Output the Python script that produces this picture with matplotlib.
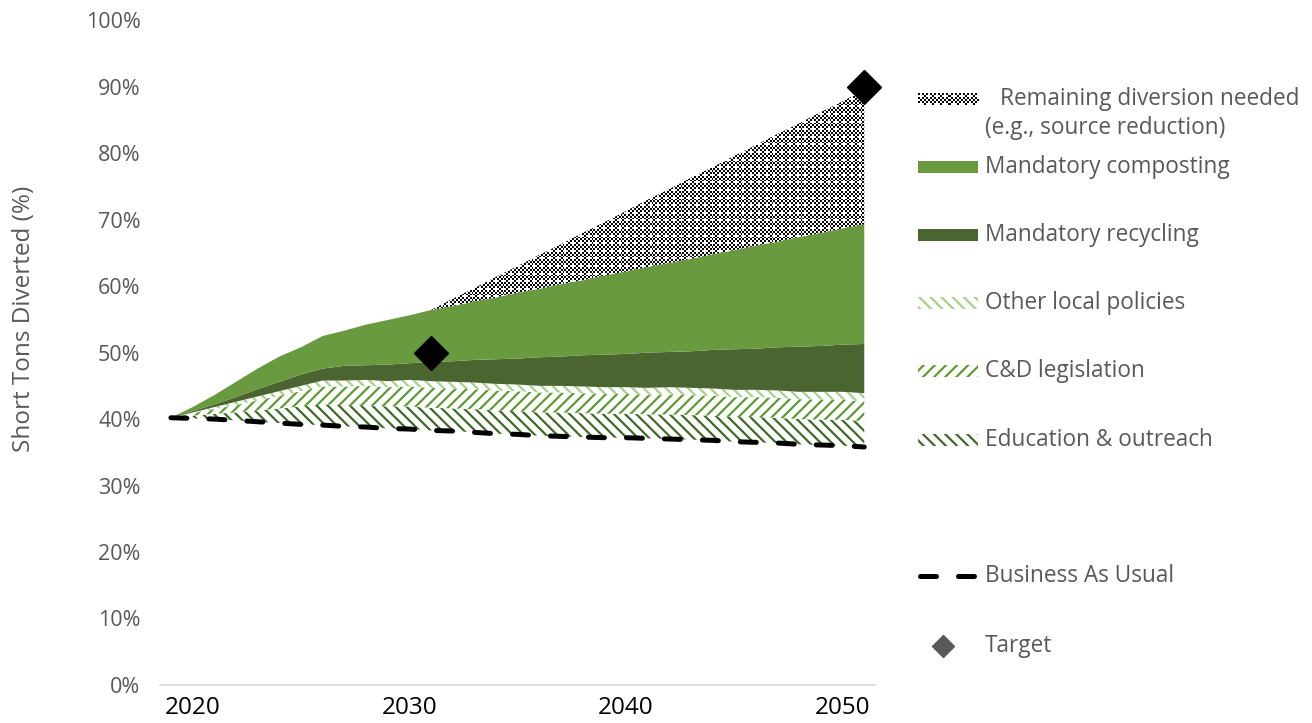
import numpy as np
import matplotlib
matplotlib.use("Agg")
import matplotlib.pyplot as plt
from matplotlib.patches import Rectangle
from matplotlib.lines import Line2D

plt.rcParams['font.family'] = ['Open Sans', 'DejaVu Sans']
plt.rcParams['hatch.linewidth'] = 1.6

# data (percent), years
years = list(range(2019, 2052))
bau = [40.2, 40.1, 40.0, 39.8, 39.6, 39.4, 39.2, 39.1, 38.9, 38.8, 38.6, 38.5, 38.3,
       38.2, 38.0, 37.8, 37.7, 37.5, 37.4, 37.3, 37.2, 37.2, 37.1, 37.0, 36.9, 36.8,
       36.6, 36.5, 36.4, 36.2, 36.1, 36.0, 35.8]
education = [0, 0.4, 0.8, 1.2, 1.7, 2.2, 2.7, 3.1, 3.2, 3.3, 3.3, 3.4, 3.4, 3.4, 3.5,
             3.5, 3.5, 3.5, 3.6, 3.6, 3.6, 3.6, 3.6, 3.7, 3.7, 3.7, 3.7, 3.8, 3.8, 3.8,
             3.8, 3.9, 3.9]
cd_legislation = [0, 0.4, 0.7, 1.1, 1.5, 1.9, 2.3, 2.7, 2.8, 2.9, 2.9, 3.0, 3.0, 3.0,
                  3.0, 3.0, 3.0, 3.0, 3.0, 3.0, 3.0, 3.0, 3.0, 3.0, 3.0, 3.0, 3.0, 3.0,
                  3.0, 3.0, 3.0, 3.0, 3.0]
other_local = [0, 0.1, 0.3, 0.5, 0.6, 0.7, 0.8, 0.9, 0.9, 0.9, 0.9, 1.0, 1.0, 1.0, 1.0,
               1.0, 1.0, 1.0, 1.0, 1.0, 1.0, 1.0, 1.0, 1.1, 1.1, 1.1, 1.1, 1.1, 1.1, 1.1,
               1.2, 1.2, 1.2]
recycling = [0, 0.2, 0.4, 0.7, 1.1, 1.4, 1.7, 1.8, 2.2, 2.2, 2.5, 2.5, 2.9, 3.1, 3.4,
             3.7, 3.9, 4.3, 4.4, 4.7, 4.9, 5.0, 5.3, 5.3, 5.5, 5.8, 6.1, 6.2, 6.5, 6.8,
             6.9, 7.1, 7.4]
composting = [0, 0.6, 1.4, 2.3, 3.1, 3.8, 4.1, 4.9, 5.3, 6.1, 6.7, 7.2, 7.8, 8.3, 8.8,
              9.3, 9.9, 10.3, 10.9, 11.3, 11.9, 12.4, 12.9, 13.4, 13.9, 14.4, 14.9, 15.5,
              15.9, 16.5, 17.0, 17.5, 18.0]
remaining = [0, 0, 0, 0, 0, 0, 0, 0, 0, 0, 0, 0, 0, 1.1, 2.0, 3.1, 4.0, 5.1, 6.0, 7.1,
             8.0, 9.1, 10.1, 11.1, 12.2, 13.1, 14.2, 15.1, 16.2, 17.1, 18.2, 19.1, 20.2]
target_years = [2031, 2051]
target_vals = [50, 90]
tick_years = [2020, 2030, 2040, 2050]
tick_labels = ['2020', '2030', '2040', '2050']

GRAY = '#595959'

layers = [
    ("Education & outreach", education, dict(facecolor='white', edgecolor='#3f6a27', hatch='\\\\\\')),
    ("C&D legislation", cd_legislation, dict(facecolor='white', edgecolor='#5e9a35', hatch='///')),
    ("Other local policies", other_local, dict(facecolor='white', edgecolor='#a8d08d', hatch='\\\\\\')),
    ("Mandatory recycling", recycling, dict(facecolor='#4a6530', edgecolor='none')),
    ("Mandatory composting", composting, dict(facecolor='#6a9a3f', edgecolor='none')),
    ("Remaining diversion needed\n(e.g., source reduction)", remaining, None),
]


def checker(h, w):
    # fine black/white checkerboard with small white dots, like the Excel pattern fill
    i, j = np.mgrid[0:h, 0:w]
    ci, cj = i // 2, j // 2
    img = ((ci + cj) % 2).astype(float)
    img[(ci % 4 == 1) & (cj % 4 == 1)] = 1.0
    return img


fig = plt.figure(figsize=(13.12, 7.23), dpi=100)
ax = fig.add_axes([0.122, 0.0526, 0.545, 0.9194])

x = np.array(years)
base = np.array(bau, dtype=float)
for name, vals, style in layers:
    top = base + np.array(vals)
    if style is None:
        poly = ax.fill_between(x, base, top, facecolor='none', linewidth=0)
        im = ax.imshow(checker(700, 740), cmap='gray', vmin=0, vmax=1, interpolation='nearest',
                       extent=(2018.5, 2051.5, 0, 100), aspect='auto', zorder=1)
        im.set_clip_path(poly.get_paths()[0], transform=ax.transData)
    else:
        ax.fill_between(x, base, top, linewidth=0, **style)
    base = top

ax.plot(x, bau, color='black', lw=3.6, linestyle=(0, (3.2, 4.4)), dash_capstyle='round', zorder=3)
ax.plot(target_years, target_vals, 'D', color='black', markersize=17, linestyle='none',
        clip_on=False, zorder=5)

ax.set_xlim(2018.5, 2051.5)
ax.set_ylim(0, 100)
ax.set_yticks(np.arange(0, 101, 10))
ax.set_yticklabels([f'{v}%' for v in range(0, 101, 10)], color=GRAY, fontsize=15.5)
ax.set_xticks(tick_years)
ax.set_xticklabels(tick_labels, fontsize=17.5, color='black')
ax.tick_params(axis='both', length=0)
ax.tick_params(axis='x', pad=8)
ax.tick_params(axis='y', pad=14)
for s in ['top', 'right', 'left']:
    ax.spines[s].set_visible(False)
ax.spines['bottom'].set_color('#d9d9d9')
ax.spines['bottom'].set_linewidth(1.2)
ax.set_ylabel('Short Tons Diverted (%)', color=GRAY, fontsize=17.5)
ax.yaxis.set_label_coords(-0.173, 0.55)

# legend drawn by hand to match the uneven spacing
W, H = 1312.0, 723.0
def fx(px):
    return px / W
def fy(py):
    return 1 - py / H

leg_rows = [
    (layers[5], 99),
    (layers[4], 167),
    (layers[3], 235),
    (layers[2], 303),
    (layers[1], 371),
    (layers[0], 440),
]
FS = 16.3
for (name, vals, style), py in leg_rows:
    if style is None:
        sw = fig.add_axes([fx(918), fy(py + 6), fx(60), 12 / H])
        sw.imshow(checker(12, 60), cmap='gray', vmin=0, vmax=1, interpolation='nearest',
                  aspect='auto')
        sw.axis('off')
        fig.text(fx(1000), fy(py), 'Remaining diversion needed', fontsize=FS,
                 color=GRAY, va='center')
        fig.text(fx(985), fy(py + 29), '(e.g., source reduction)', fontsize=FS,
                 color=GRAY, va='center')
    else:
        r = Rectangle((fx(918), fy(py + 6)), fx(60), 12 / H, transform=fig.transFigure,
                      linewidth=0, **style)
        fig.add_artist(r)
        fig.text(fx(985), fy(py), name, fontsize=FS, color=GRAY, va='center')

fig.add_artist(Line2D([fx(920), fx(975)], [fy(576), fy(576)], transform=fig.transFigure,
                      color='black', lw=3.6, linestyle=(0, (3.2, 4.4)),
                      dash_capstyle='round'))
fig.text(fx(985), fy(576), 'Business As Usual', fontsize=FS, color=GRAY, va='center')
fig.add_artist(Line2D([fx(943)], [fy(646)], transform=fig.transFigure, marker='D',
                      color=GRAY, markersize=11, linestyle='none'))
fig.text(fx(985), fy(646), 'Target', fontsize=FS, color=GRAY, va='center')

fig.savefig('out.png', dpi=100)
